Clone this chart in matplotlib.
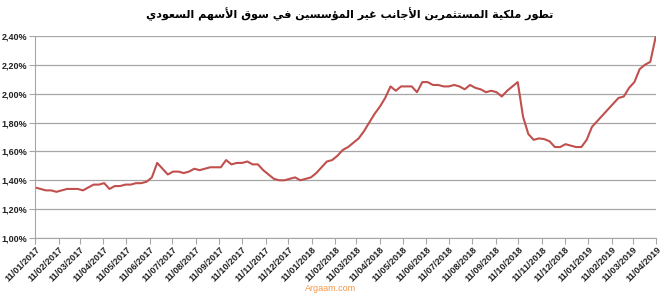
import matplotlib
matplotlib.use("Agg")
import matplotlib.pyplot as plt
import matplotlib.dates as mdates
from matplotlib.ticker import FuncFormatter, MultipleLocator
import pandas as pd

# weekly foreign ownership share (%)
start_date = "2017-01-11"
ownership = [
    1.35, 1.34, 1.33, 1.33, 1.32, 1.33, 1.34, 1.34, 1.34, 1.33,
    1.35, 1.37, 1.37, 1.38, 1.34, 1.36, 1.36, 1.37, 1.37, 1.38,
    1.38, 1.39, 1.42, 1.52, 1.48, 1.44, 1.46, 1.46, 1.45, 1.46,
    1.48, 1.47, 1.48, 1.49, 1.49, 1.49, 1.54, 1.51, 1.52, 1.52,
    1.53, 1.51, 1.51, 1.47, 1.44, 1.41, 1.40, 1.40, 1.41, 1.42,
    1.40, 1.41, 1.42, 1.45, 1.49, 1.53, 1.54, 1.57, 1.61, 1.63,
    1.66, 1.69, 1.74, 1.80, 1.86, 1.91, 1.97, 2.05, 2.02, 2.05,
    2.05, 2.05, 2.01, 2.08, 2.08, 2.06, 2.06, 2.05, 2.05, 2.06,
    2.05, 2.03, 2.06, 2.04, 2.03, 2.01, 2.02, 2.01, 1.98, 2.02,
    2.05, 2.08, 1.84, 1.72, 1.68, 1.69, 1.685, 1.67, 1.63, 1.63,
    1.65, 1.64, 1.63, 1.63, 1.68, 1.77, 1.81, 1.85, 1.89, 1.93,
    1.97, 1.98, 2.04, 2.08, 2.17, 2.20, 2.22, 2.39,
]
dates = pd.date_range(start_date, periods=len(ownership), freq="7D")

title_text = "تطور ملكية المستثمرين الأجانب غير المؤسسين في سوق الأسهم السعودي"
source_text = "Argaam.com"

# matplotlib has no arabic shaping, so pick presentation forms by hand
DUAL = {'ب': 0xFE8F, 'ت': 0xFE95, 'ث': 0xFE99, 'ج': 0xFE9D, 'س': 0xFEB1,
        'ط': 0xFEC1, 'ع': 0xFEC9, 'غ': 0xFECD, 'ف': 0xFED1, 'ق': 0xFED5,
        'ك': 0xFED9, 'ل': 0xFEDD, 'م': 0xFEE1, 'ن': 0xFEE5, 'ه': 0xFEE9,
        'ي': 0xFEF1}
RIGHT = {'ا': 0xFE8D, 'أ': 0xFE83, 'ؤ': 0xFE85, 'ة': 0xFE93, 'د': 0xFEA9,
         'ر': 0xFEAD, 'و': 0xFEED}
LAMALEF = {'ا': 0xFEFB, 'أ': 0xFEF7}


def shape_word(word):
    out = []
    prev_joins = False
    i = 0
    while i < len(word):
        c = word[i]
        nxt = word[i + 1] if i + 1 < len(word) else None
        if c == 'ل' and nxt in LAMALEF:
            out.append(chr(LAMALEF[nxt] + (1 if prev_joins else 0)))
            prev_joins = False
            i += 2
            continue
        if c in DUAL:
            jn = nxt is not None and (nxt in DUAL or nxt in RIGHT)
            form = 3 if (prev_joins and jn) else 1 if prev_joins else 2 if jn else 0
            out.append(chr(DUAL[c] + form))
            prev_joins = True
        elif c in RIGHT:
            out.append(chr(RIGHT[c] + (1 if prev_joins else 0)))
            prev_joins = False
        else:
            out.append(c)
            prev_joins = False
        i += 1
    return ''.join(out)


def rtl(text):
    return ' '.join(shape_word(w) for w in text.split())[::-1]


fig = plt.figure(figsize=(6.65, 3.04), dpi=100)
ax = fig.add_axes([0.053, 0.217, 0.934, 0.665])

ax.plot(dates, ownership, color="#c0504d", lw=1.5)

ax.set_ylim(1.0, 2.4)
ax.yaxis.set_major_locator(MultipleLocator(0.2))
ax.yaxis.set_major_formatter(FuncFormatter(lambda v, p: f"{v:.2f}%".replace('.', ',')))
ax.set_xlim(pd.Timestamp("2017-01-11"), pd.Timestamp("2019-04-11"))
ax.xaxis.set_major_locator(mdates.MonthLocator(bymonthday=11))
ax.xaxis.set_major_formatter(mdates.DateFormatter("%d/%m/%Y"))

ax.grid(axis="y", color="#a6a6a6", lw=0.9)
ax.set_axisbelow(True)
for s in ("top", "right"):
    ax.spines[s].set_visible(False)
for s in ("left", "bottom"):
    ax.spines[s].set_color("#a6a6a6")
ax.tick_params(axis="both", color="#a6a6a6", length=4, labelcolor="#222222")
ax.tick_params(axis="y", pad=2)
ax.tick_params(axis="x", pad=1)
for lab in ax.get_yticklabels():
    lab.set_fontfamily(["Liberation Sans", "DejaVu Sans"])
    lab.set_fontsize(6.5)
    lab.set_fontweight("bold")
for lab in ax.get_xticklabels():
    lab.set_fontfamily(["Liberation Sans", "DejaVu Sans"])
    lab.set_fontsize(6.6)
    lab.set_rotation(45)
    lab.set_ha("right")
    lab.set_rotation_mode("anchor")
    lab.set_fontweight("bold")

fig.text(0.526, 0.952, rtl(title_text), ha="center", va="center",
         fontsize=8, fontweight="bold", family=["DejaVu Sans"])
fig.text(0.497, 0.052, source_text, ha="center", va="center",
         fontsize=6.5, color="#f79646", family=["Liberation Sans", "DejaVu Sans"])

fig.savefig("out.png", dpi=100)
